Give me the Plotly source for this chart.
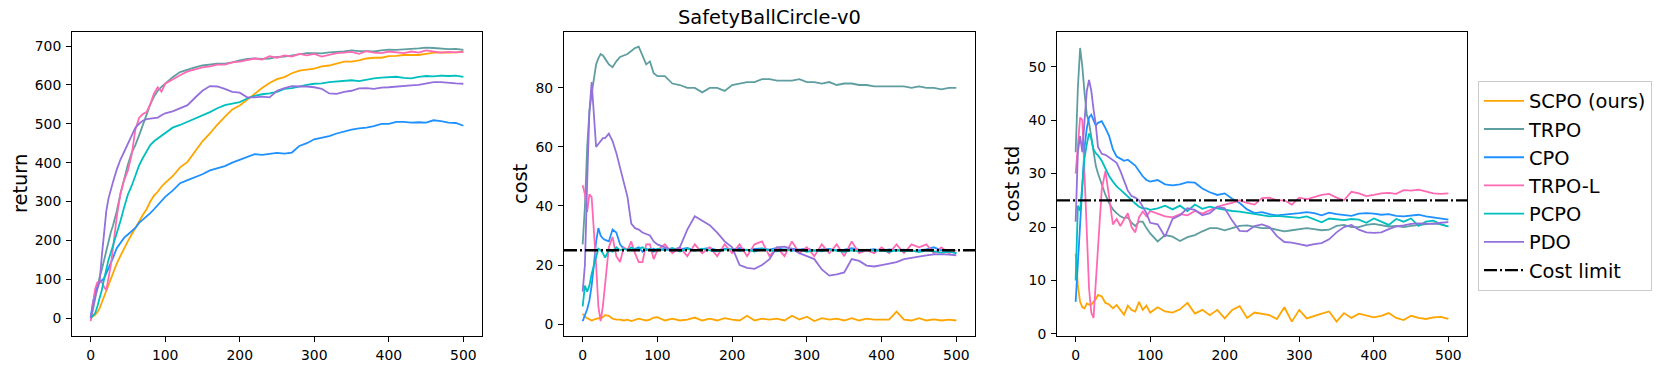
import plotly.graph_objects as go

# ---------------- data ----------------
EPOCHS = [0, 3, 6, 9, 12, 15, 18, 21, 24, 27, 30,
          35, 40, 45, 50, 55, 60, 65, 70, 75, 80, 85, 90, 95, 100,
          110, 120, 130, 140, 150, 160, 170, 180, 190, 200,
          210, 220, 230, 240, 250, 260, 270, 280, 290, 300,
          310, 320, 330, 340, 350, 360, 370, 380, 390, 400,
          410, 420, 430, 440, 450, 460, 470, 480, 490, 500]

NAMES = ["SCPO (ours)", "TRPO", "CPO", "TRPO-L", "PCPO", "PDO"]
COST_LIMIT = 25
TITLE = "SafetyBallCircle-v0"
Y_LABELS = ["return", "cost", "cost std"]
X_TICKS = [0, 100, 200, 300, 400, 500]
Y_TICKS_RET = [0, 100, 200, 300, 400, 500, 600, 700]
Y_TICKS_COST = [0, 20, 40, 60, 80]
Y_TICKS_STD = [0, 10, 20, 30, 40, 50]

# return
RET_SCPO = [0, 3, 8, 15, 25, 40, 55, 70, 90, 105, 120,
            140, 160, 180, 198, 215, 232, 250, 265, 280, 300, 315, 325, 338, 348,
            365, 388, 402, 430, 455, 475, 498, 518, 537, 547,
            562, 578, 592, 605, 615, 620, 630, 637, 640, 642,
            648, 650, 655, 660, 660, 663, 668, 670, 670, 674,
            675, 677, 677, 677, 680, 683, 684, 683, 684, 686]
RET_TRPO = [0, 20, 50, 80, 105, 125, 150, 175, 200, 220, 238,
            275, 320, 360, 395, 425, 445, 470, 497, 525, 550, 570, 585, 595, 603,
            620, 633, 640, 645, 650, 653, 655, 655, 658, 663,
            667, 668, 667, 668, 672, 673, 676, 680, 682, 682,
            681, 684, 685, 686, 689, 687, 687, 686, 689, 691,
            690, 692, 693, 694, 696, 695, 693, 692, 693, 690]
RET_CPO = [2, 40, 65, 82, 92, 96, 102, 115, 128, 140, 155,
           180, 195, 207, 215, 224, 232, 245, 253, 262, 270, 280, 290, 302, 312,
           328, 347, 355, 362, 370, 380, 386, 391, 400, 408,
           415, 422, 420, 422, 425, 423, 426, 443, 450, 460,
           465, 468, 475, 481, 485, 488, 490, 494, 500, 500,
           505, 505, 503, 504, 503, 509, 507, 503, 502, 495]
RET_TRPOL = [-8, 40, 75, 92, 95, 93, 80, 72, 100, 135, 180,
             260, 320, 355, 380, 420, 485, 515, 525, 530, 550, 578, 594, 583, 603,
             615, 625, 635, 640, 645, 648, 652, 652, 658, 660,
             665, 668, 665, 674, 670, 676, 673, 680, 676, 680,
             673, 678, 682, 683, 685, 680, 687, 683, 682, 686,
             684, 682, 686, 683, 689, 686, 683, 685, 684, 685]
RET_PCPO = [0, 5, 12, 30, 50, 72, 100, 130, 150, 168, 186,
            220, 250, 285, 318, 340, 365, 393, 412, 430, 445, 455, 462, 470, 478,
            490, 497, 505, 515, 522, 530, 540, 548, 552, 556,
            565, 572, 576, 578, 582, 590, 592, 597, 600, 603,
            604, 607, 609, 611, 612, 610, 614, 617, 619, 620,
            621, 618, 617, 621, 623, 622, 624, 623, 624, 621]
RET_PDO = [0, 30, 55, 75, 93, 160, 225, 275, 308, 332, 350,
           382, 408, 428, 450, 472, 490, 500, 508, 512, 513, 514, 516, 522, 527,
           532, 540, 548, 567, 585, 597, 596, 590, 582, 580,
           568, 568, 570, 568, 585, 592, 597, 596, 596, 594,
           590, 578, 577, 582, 585, 591, 592, 590, 593, 594,
           596, 597, 599, 600, 604, 607, 607, 605, 604, 603]

# cost
COST_SCPO = [3.5, 2.5, 2, 1.5, 1.2, 1.5, 1.8, 2, 1.8, 2.5, 3,
             2.8, 1.8, 1.5, 1.5, 1.2, 1.5, 1, 1.5, 1.8, 1.5, 1.2, 1.5, 2.2, 2.3,
             1.2, 1.8, 1.2, 1.5, 2.2, 1.2, 1.8, 1.2, 2, 1.5,
             1.2, 2.8, 1.2, 1.8, 1.5, 1.8, 1.2, 2.8, 1.5, 2.5,
             1, 2, 1.5, 1.8, 1.2, 2, 1.2, 1.8, 1.5, 1.5,
             1.5, 4.2, 1.5, 1.2, 2, 1.2, 1.6, 1.2, 1.5, 1.2]
COST_TRPO = [27, 40, 60, 72, 78, 84, 88, 90, 91.5, 91, 90,
             88, 87, 89, 90.5, 91, 91.5, 92.5, 93.5, 94, 91, 88, 89, 85, 84,
             84, 81.5, 81, 80, 80, 78.5, 80, 80, 79, 81,
             81.5, 82, 82, 83, 83, 82.5, 82.5, 82.5, 83, 82,
             82, 81.5, 82, 81, 81.5, 81.5, 81, 81, 80.5, 80.5,
             80.5, 80.5, 80.5, 80, 80.5, 80, 80, 79.5, 80, 80]
COST_CPO = [1, 3, 5, 8, 13, 20, 28, 32.5, 30, 29, 28.5,
            28, 32, 31, 27, 25.5, 25.5, 25, 25.5, 26, 24.5, 25.5, 25, 25.5, 25,
            25.5, 24.8, 25.2, 25.8, 25, 25.5, 25.8, 25, 25.5, 25.2,
            25.8, 25, 25.5, 25.6, 25.2, 25.8, 25.1, 25.5, 25.2, 25.6,
            24.8, 25.3, 25.5, 25, 25.2, 25.7, 25.2, 25, 25.4, 24.8,
            25.3, 25, 25.2, 24.7, 25, 25.3, 26, 25, 24.8, 24]
COST_TRPOL = [47, 44, 38, 44, 43, 33, 20, 6, 1, 6, 14,
              26, 29.5, 23, 21, 26, 25, 28, 24, 21, 21, 27, 27, 22, 25,
              27, 24, 26, 23, 27, 24, 26, 23, 27, 24,
              27, 23, 27, 28, 23, 26, 23, 28, 24, 26,
              23, 27, 24, 27, 23, 28, 24, 25, 24, 26,
              24, 27, 24, 27, 26, 27, 24, 26, 24, 25]
COST_PCPO = [6, 13, 11, 13, 17, 20, 23, 25.5, 25, 24, 22.5,
             25, 24.5, 26, 25, 25.5, 25, 26, 25, 25.5, 26, 25, 25.5, 24.5, 25.5,
             25, 25.8, 24.6, 25.5, 24.8, 25.5, 25, 24.6, 25.2, 25.4,
             24.8, 25.2, 24.6, 25.5, 25, 24.6, 25.3, 24.8, 25.2, 24.5,
             25, 24.6, 25.2, 24.8, 24.5, 25, 24.6, 25.2, 24.8, 25,
             24.5, 25, 24.6, 25, 24.4, 25, 24.6, 24.2, 24.5, 24]
COST_PDO = [11, 20, 48, 72, 82, 70, 60, 61, 62, 63, 63,
            64.5, 62, 58, 53, 48, 43, 34, 32.5, 32, 31, 30.5, 30, 28, 27,
            26, 25, 26, 32, 36.5, 35, 33.5, 31, 28, 26,
            20, 19, 18.7, 20, 22, 26, 26.2, 25.5, 24, 23,
            22, 18.5, 16.4, 16.8, 17.5, 22, 21.4, 19.8, 19.5, 20,
            20.5, 21, 22, 22.5, 23, 23.3, 23.6, 23.7, 23.5, 23.3]

# cost std
STD_SCPO = [15, 9, 6, 5, 4.8, 5.7, 5.5, 5.5, 6, 6.5, 7.3,
            7, 5.8, 5.5, 4.8, 5.4, 4.5, 3.6, 5.3, 4.5, 4.2, 6, 4.5, 5.3, 4,
            5, 4.2, 4, 4.6, 5.8, 3.8, 4.5, 3.5, 4.5, 2.9,
            4.5, 5.2, 3, 4, 3.7, 3.5, 2.8, 5, 2.3, 4.5,
            2.9, 3.4, 3.8, 4.2, 2.3, 3.9, 3, 3.8, 3.4, 3.1,
            3.4, 3.9, 3, 2.6, 3.4, 3, 2.8, 3.1, 3.2, 2.8]
STD_TRPO = [34, 46, 53.5, 50, 45, 41, 39.5, 37, 34, 31.5, 30,
            27.8, 26, 24.5, 23.3, 22.6, 22, 21.7, 21.8, 20.8, 20.2, 21, 21, 19.8, 18.8,
            17.3, 18.5, 18.2, 17.4, 18.1, 18.5, 19.2, 19.8, 19.8, 19.4,
            19.8, 20.2, 20.3, 20, 19.8, 19.8, 19.5, 19.2, 19.4, 19.6,
            19.8, 19.6, 19.4, 19.5, 20.2, 20.4, 20, 20, 20.4, 20.6,
            20.3, 20.1, 20.2, 20, 20.2, 20.4, 20.6, 20.7, 20.5, 20.1]
STD_CPO = [6, 13, 22, 29, 35, 38.5, 40.5, 41, 40, 39, 39.5,
           39.8, 38.5, 37, 34.5, 33.2, 32.8, 32.4, 32.6, 32, 31.5, 30.5, 29.5, 28.8, 28.5,
           28.8, 28, 27.8, 28, 28.4, 28.3, 27.2, 26.5, 26, 26.3,
           25.3, 24.5, 23.3, 22.6, 22.8, 22.4, 22.2, 22.3, 22.5, 22.6,
           22.8, 22.6, 22.2, 22.7, 22.4, 22.3, 22.1, 22.5, 22.6, 22.5,
           22.3, 22.4, 22.1, 22, 22.2, 22.3, 22, 21.8, 21.6, 21.4]
STD_TRPOL = [30, 35, 40.5, 40, 31, 19, 8.5, 4, 3, 10, 17,
             27, 30.5, 25, 20.5, 21.5, 20.2, 21.4, 22.6, 20, 19, 21.8, 22.9, 22, 23,
             22.5, 22, 21.8, 22.4, 22.2, 23, 22.5, 23.2, 23.8, 24.2,
             24.5, 25, 24.5, 24.2, 25.4, 25.5, 25, 25, 24.2, 25.5,
             25.2, 25.6, 26, 26.2, 25.5, 25, 26.6, 26.3, 25.8, 26,
             26.3, 26.4, 26.2, 26.9, 26.8, 27, 26.6, 26.3, 26.2, 26.3]
STD_PCPO = [10, 24, 23, 29, 33, 35.5, 37.5, 36.5, 34.5, 33.8, 33.4,
            32.4, 31, 29.5, 28.5, 27.6, 27, 26.3, 25.6, 25, 24.4, 23.8, 23.5, 23.5, 23.2,
            23.5, 24, 23.3, 24, 23, 24.2, 23.4, 23.8, 23.5, 23.2,
            23, 22.9, 22.7, 22.5, 22.2, 22, 22.1, 22, 21.8, 21.7,
            22, 21.5, 20.9, 21.6, 21.5, 21.3, 21.5, 21.4, 20.8, 21.6,
            21, 20.4, 21.5, 21, 21.6, 20.2, 21, 21.2, 20.5, 20.1]
STD_PDO = [21, 34, 37, 34, 40, 45.5, 47.5, 45.5, 42, 39.2, 35,
           33.7, 33.5, 33, 32.4, 32, 30.5, 28.5, 26.8, 25.8, 25.5, 25, 23.8, 22.6, 20.8,
           20.5, 18.2, 21.5, 22.2, 23.5, 23.2, 22.2, 22.6, 23.8, 23.5,
           21.2, 19.3, 19.2, 20.2, 20.5, 20, 18.3, 17.2, 17.1, 16.8,
           16.5, 16.8, 17, 17.7, 19, 20, 20.4, 19.5, 19, 18.9,
           19, 19.6, 20.1, 20.3, 20.6, 20.7, 20.7, 20.6, 20.8, 20.9]

RET = [RET_SCPO, RET_TRPO, RET_CPO, RET_TRPOL, RET_PCPO, RET_PDO]
COST = [COST_SCPO, COST_TRPO, COST_CPO, COST_TRPOL, COST_PCPO, COST_PDO]
STD = [STD_SCPO, STD_TRPO, STD_CPO, STD_TRPOL, STD_PCPO, STD_PDO]

# ---------------- style ----------------
COLORS = ["#FFA500", "#5F9EA0", "#1E90FF", "#FF69B4", "#00BFBF", "#9370DB"]
FONT = "DejaVu Sans"
W, H = 1673, 375
LINE_W = 1.8

fig = go.Figure()

panels = [(RET, "x", "y"), (COST, "x2", "y2"), (STD, "x3", "y3")]
for pi, (series, xa, ya) in enumerate(panels):
    for si, vals in enumerate(series):
        fig.add_trace(go.Scatter(
            x=EPOCHS, y=vals, mode="lines", xaxis=xa, yaxis=ya,
            name=NAMES[si], legendgroup=NAMES[si], showlegend=(pi == 0),
            line=dict(color=COLORS[si], width=LINE_W),
        ))

for pi, (xa, ya) in enumerate([("x2", "y2"), ("x3", "y3")]):
    fig.add_shape(
        type="line", xref=f"{xa} domain", x0=0, x1=1,
        yref=ya, y0=COST_LIMIT, y1=COST_LIMIT,
        line=dict(color="black", width=2.3, dash="13px,3px,2px,3px"),
        name="Cost limit", showlegend=(pi == 0), legendrank=2000,
    )

def px_x(p):
    return p / W

def px_y(p):
    return 1 - p / H

ydom = [px_y(341), px_y(33)]
xdoms = [[px_x(72), px_x(482)], [px_x(564), px_x(975)], [px_x(1057), px_x(1467)]]
yranges = [[-45, 735], [-3.9, 98.8], [-0.3, 56.4]]
yticks = [Y_TICKS_RET, Y_TICKS_COST, Y_TICKS_STD]

axis_common = dict(
    showline=True, mirror=True, linecolor="black", linewidth=1,
    ticks="outside", ticklen=5, tickwidth=1, tickcolor="black",
    showgrid=False, zeroline=False, ticklabelstandoff=2,
    tickfont=dict(family=FONT, size=13.9, color="black"),
)

layout = dict(
    width=W, height=H,
    margin=dict(l=0, r=0, t=0, b=0),
    paper_bgcolor="white", plot_bgcolor="white",
    font=dict(family=FONT, color="black"),
    legend=dict(
        x=px_x(1478), y=px_y(82), xanchor="left", yanchor="top",
        font=dict(family=FONT, size=19.4, color="black"),
        bgcolor="white", bordercolor="#cccccc", borderwidth=1,
        itemwidth=40, tracegroupgap=0,
    ),
)
for i in range(3):
    sfx = "" if i == 0 else str(i + 1)
    layout["xaxis" + sfx] = dict(
        domain=xdoms[i], range=[-25, 525], tickvals=X_TICKS,
        anchor="y" + sfx, **axis_common)
    layout["yaxis" + sfx] = dict(
        domain=ydom, range=yranges[i], tickvals=yticks[i],
        anchor="x" + sfx, **axis_common)

fig.update_layout(**layout)

label_x = [20, 520, 1012]
for i in range(3):
    fig.add_annotation(
        x=px_x(label_x[i]), y=(ydom[0] + ydom[1]) / 2, xref="paper", yref="paper",
        text=Y_LABELS[i], textangle=-90, showarrow=False,
        xanchor="center", yanchor="middle",
        font=dict(family=FONT, size=19.4, color="black"),
    )
fig.add_annotation(
    x=px_x(769.5), y=px_y(18), xref="paper", yref="paper",
    text=TITLE, showarrow=False, xanchor="center", yanchor="middle",
    font=dict(family=FONT, size=19.4, color="black"),
)

fig.write_html(
    "out.html",
    config={"displayModeBar": False},
    post_script="document.body.style.margin='0';document.body.style.overflow='hidden';",
)
